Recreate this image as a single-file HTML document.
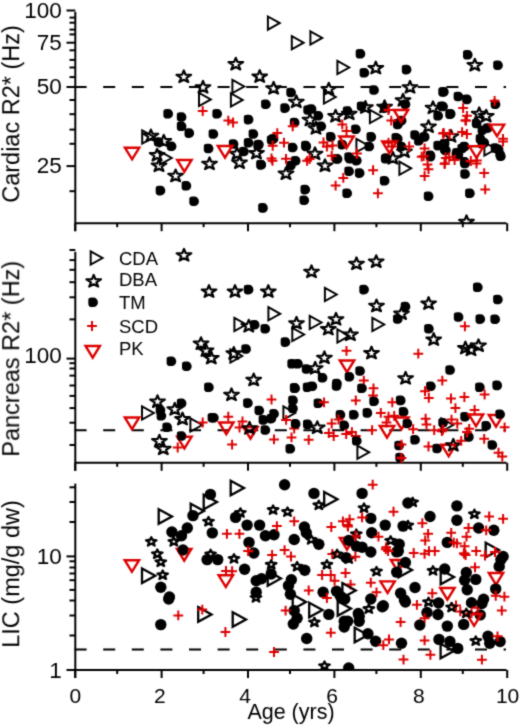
<!DOCTYPE html>
<html><head><meta charset="utf-8"><style>
html,body{margin:0;padding:0;background:#fff;width:520px;height:726px;overflow:hidden}
svg{display:block}
text{font-family:"Liberation Sans",sans-serif;fill:#000}
</style></head><body>
<svg width="520" height="726" viewBox="0 0 520 726">
<defs>
<filter id="soft" x="0" y="0" width="520" height="726" filterUnits="userSpaceOnUse"><feConvolveMatrix order="3" kernelMatrix="0.03 0.1 0.03 0.1 0.48 0.1 0.03 0.1 0.03" edgeMode="none" preserveAlpha="false"/></filter>
<filter id="gs" x="-10%" y="-10%" width="120%" height="120%"><feOffset dx="0" dy="0"/></filter>
<path id="mT" d="M-5.6,-6.6 L6.2,0 L-5.6,6.6 Z" fill="none" stroke="#000" stroke-width="2"/>
<path id="mS" d="M0,-6 L1.7,-1.9 L7.3,-1.7 L2.7,1.3 L4.5,5.6 L0,3.3 L-4.5,5.6 L-2.7,1.3 L-7.3,-1.7 L-1.7,-1.9 Z" fill="none" stroke="#000" stroke-width="2.2" stroke-linejoin="round"/>
<path id="mC" d="M-4.7,-2.3 C-4.7,-4.1 -3.4,-4.8 -1.4,-4.8 L0.2,-4.8 C3.1,-4.8 4.9,-2.7 4.9,0 C4.9,2.8 2.9,4.8 0.1,4.8 L-1.2,4.8 C-3.4,4.8 -4.7,3.5 -4.7,1.6 Z" fill="#000"/>
<path id="mP" d="M-4.9,0 H4.9 M0,-4.9 V4.9" stroke="#dd0000" stroke-width="2" fill="none"/>
<path id="mV" d="M-7.2,-5 H7.2 L0,6.6 Z" fill="none" stroke="#dd0000" stroke-width="2.4" stroke-linejoin="miter"/>
<path id="mT3" d="M-6.3,-7.3 L7,0 L-6.3,7.3 Z" fill="none" stroke="#000" stroke-width="2.3"/>
<path id="mS3" transform="scale(0.76)" d="M0,-5.6 L1.65,-2.3 L6.9,-1.6 L2.7,0.9 L4.4,5.4 L0,2.8 L-4.4,5.4 L-2.7,0.9 L-6.9,-1.6 L-1.65,-2.3 Z" fill="none" stroke="#000" stroke-width="3" stroke-linejoin="round"/>
<circle id="mC3" cx="0" cy="0" r="5.7" fill="#000"/>
<clipPath id="cl1"><rect x="0" y="0" width="520" height="223.2"/></clipPath>
<clipPath id="cl2"><rect x="0" y="240" width="520" height="222.8"/></clipPath>
<clipPath id="cl3"><rect x="0" y="470" width="520" height="200"/></clipPath>
</defs><g filter="url(#soft)"><line x1="75.30" y1="11.80" x2="75.30" y2="231.20" stroke="#000" stroke-width="2" />
<line x1="75.30" y1="223.20" x2="506.50" y2="223.20" stroke="#000" stroke-width="2" />
<line x1="66.50" y1="10.50" x2="75.30" y2="10.50" stroke="#000" stroke-width="2" />
<text x="61.80" y="18.00" font-size="22.5" text-anchor="end" filter="url(#gs)" >100</text>
<line x1="66.50" y1="42.70" x2="75.30" y2="42.70" stroke="#000" stroke-width="2" />
<text x="61.80" y="50.20" font-size="22.5" text-anchor="end" filter="url(#gs)" >75</text>
<line x1="66.50" y1="87.00" x2="75.30" y2="87.00" stroke="#000" stroke-width="2" />
<text x="61.80" y="93.50" font-size="22.5" text-anchor="end" filter="url(#gs)" >50</text>
<line x1="66.50" y1="166.10" x2="75.30" y2="166.10" stroke="#000" stroke-width="2" />
<text x="61.80" y="172.60" font-size="22.5" text-anchor="end" filter="url(#gs)" >25</text>
<line x1="69.50" y1="17.60" x2="75.30" y2="17.60" stroke="#000" stroke-width="2" />
<line x1="69.50" y1="22.70" x2="75.30" y2="22.70" stroke="#000" stroke-width="2" />
<line x1="69.50" y1="29.60" x2="75.30" y2="29.60" stroke="#000" stroke-width="2" />
<line x1="69.50" y1="34.40" x2="75.30" y2="34.40" stroke="#000" stroke-width="2" />
<line x1="69.50" y1="50.30" x2="75.30" y2="50.30" stroke="#000" stroke-width="2" />
<line x1="69.50" y1="59.90" x2="75.30" y2="59.90" stroke="#000" stroke-width="2" />
<line x1="69.50" y1="67.50" x2="75.30" y2="67.50" stroke="#000" stroke-width="2" />
<line x1="69.50" y1="77.10" x2="75.30" y2="77.10" stroke="#000" stroke-width="2" />
<line x1="69.50" y1="100.00" x2="75.30" y2="100.00" stroke="#000" stroke-width="2" />
<line x1="69.50" y1="114.20" x2="75.30" y2="114.20" stroke="#000" stroke-width="2" />
<line x1="69.50" y1="129.60" x2="75.30" y2="129.60" stroke="#000" stroke-width="2" />
<line x1="69.50" y1="143.80" x2="75.30" y2="143.80" stroke="#000" stroke-width="2" />
<line x1="69.50" y1="191.20" x2="75.30" y2="191.20" stroke="#000" stroke-width="2" />
<line x1="75.20" y1="223.20" x2="75.20" y2="231.20" stroke="#000" stroke-width="2" />
<line x1="117.20" y1="223.20" x2="117.20" y2="227.20" stroke="#000" stroke-width="2" />
<line x1="161.60" y1="223.20" x2="161.60" y2="231.20" stroke="#000" stroke-width="2" />
<line x1="203.60" y1="223.20" x2="203.60" y2="227.20" stroke="#000" stroke-width="2" />
<line x1="248.00" y1="223.20" x2="248.00" y2="231.20" stroke="#000" stroke-width="2" />
<line x1="290.00" y1="223.20" x2="290.00" y2="227.20" stroke="#000" stroke-width="2" />
<line x1="334.40" y1="223.20" x2="334.40" y2="231.20" stroke="#000" stroke-width="2" />
<line x1="376.40" y1="223.20" x2="376.40" y2="227.20" stroke="#000" stroke-width="2" />
<line x1="420.80" y1="223.20" x2="420.80" y2="231.20" stroke="#000" stroke-width="2" />
<line x1="462.80" y1="223.20" x2="462.80" y2="227.20" stroke="#000" stroke-width="2" />
<line x1="507.20" y1="223.20" x2="507.20" y2="231.20" stroke="#000" stroke-width="2" />
<line x1="74.60" y1="87.00" x2="506.00" y2="87.00" stroke="#000" stroke-width="2" stroke-dasharray="12,16.6"/>
<line x1="75.30" y1="251.80" x2="75.30" y2="470.80" stroke="#000" stroke-width="2" />
<line x1="75.30" y1="462.80" x2="506.50" y2="462.80" stroke="#000" stroke-width="2" />
<line x1="66.50" y1="358.60" x2="75.30" y2="358.60" stroke="#000" stroke-width="2" />
<text x="61.80" y="363.10" font-size="22.5" text-anchor="end" filter="url(#gs)" >100</text>
<line x1="69.50" y1="250.00" x2="75.30" y2="250.00" stroke="#000" stroke-width="2" />
<line x1="69.50" y1="260.10" x2="75.30" y2="260.10" stroke="#000" stroke-width="2" />
<line x1="69.50" y1="269.80" x2="75.30" y2="269.80" stroke="#000" stroke-width="2" />
<line x1="69.50" y1="282.20" x2="75.30" y2="282.20" stroke="#000" stroke-width="2" />
<line x1="69.50" y1="297.30" x2="75.30" y2="297.30" stroke="#000" stroke-width="2" />
<line x1="69.50" y1="319.40" x2="75.30" y2="319.40" stroke="#000" stroke-width="2" />
<line x1="69.50" y1="363.20" x2="75.30" y2="363.20" stroke="#000" stroke-width="2" />
<line x1="69.50" y1="368.50" x2="75.30" y2="368.50" stroke="#000" stroke-width="2" />
<line x1="69.50" y1="375.60" x2="75.30" y2="375.60" stroke="#000" stroke-width="2" />
<line x1="69.50" y1="385.50" x2="75.30" y2="385.50" stroke="#000" stroke-width="2" />
<line x1="69.50" y1="395.90" x2="75.30" y2="395.90" stroke="#000" stroke-width="2" />
<line x1="69.50" y1="408.10" x2="75.30" y2="408.10" stroke="#000" stroke-width="2" />
<line x1="69.50" y1="422.70" x2="75.30" y2="422.70" stroke="#000" stroke-width="2" />
<line x1="69.50" y1="445.00" x2="75.30" y2="445.00" stroke="#000" stroke-width="2" />
<line x1="75.20" y1="462.80" x2="75.20" y2="470.80" stroke="#000" stroke-width="2" />
<line x1="117.20" y1="462.80" x2="117.20" y2="466.80" stroke="#000" stroke-width="2" />
<line x1="161.60" y1="462.80" x2="161.60" y2="470.80" stroke="#000" stroke-width="2" />
<line x1="203.60" y1="462.80" x2="203.60" y2="466.80" stroke="#000" stroke-width="2" />
<line x1="248.00" y1="462.80" x2="248.00" y2="470.80" stroke="#000" stroke-width="2" />
<line x1="290.00" y1="462.80" x2="290.00" y2="466.80" stroke="#000" stroke-width="2" />
<line x1="334.40" y1="462.80" x2="334.40" y2="470.80" stroke="#000" stroke-width="2" />
<line x1="376.40" y1="462.80" x2="376.40" y2="466.80" stroke="#000" stroke-width="2" />
<line x1="420.80" y1="462.80" x2="420.80" y2="470.80" stroke="#000" stroke-width="2" />
<line x1="462.80" y1="462.80" x2="462.80" y2="466.80" stroke="#000" stroke-width="2" />
<line x1="507.20" y1="462.80" x2="507.20" y2="470.80" stroke="#000" stroke-width="2" />
<line x1="74.60" y1="430.30" x2="506.00" y2="430.30" stroke="#000" stroke-width="2" stroke-dasharray="12,16.6"/>
<line x1="75.30" y1="483.60" x2="75.30" y2="678.00" stroke="#000" stroke-width="2" />
<line x1="75.30" y1="670.00" x2="506.50" y2="670.00" stroke="#000" stroke-width="2" />
<line x1="66.50" y1="556.40" x2="75.30" y2="556.40" stroke="#000" stroke-width="2" />
<text x="61.80" y="563.90" font-size="22.5" text-anchor="end" filter="url(#gs)" >10</text>
<line x1="66.50" y1="670.00" x2="75.30" y2="670.00" stroke="#000" stroke-width="2" />
<text x="61.80" y="677.50" font-size="22.5" text-anchor="end" filter="url(#gs)" >1</text>
<line x1="69.50" y1="487.30" x2="75.30" y2="487.30" stroke="#000" stroke-width="2" />
<line x1="69.50" y1="502.00" x2="75.30" y2="502.00" stroke="#000" stroke-width="2" />
<line x1="69.50" y1="522.00" x2="75.30" y2="522.00" stroke="#000" stroke-width="2" />
<line x1="69.50" y1="561.30" x2="75.30" y2="561.30" stroke="#000" stroke-width="2" />
<line x1="69.50" y1="567.50" x2="75.30" y2="567.50" stroke="#000" stroke-width="2" />
<line x1="69.50" y1="573.50" x2="75.30" y2="573.50" stroke="#000" stroke-width="2" />
<line x1="69.50" y1="580.20" x2="75.30" y2="580.20" stroke="#000" stroke-width="2" />
<line x1="69.50" y1="589.90" x2="75.30" y2="589.90" stroke="#000" stroke-width="2" />
<line x1="69.50" y1="600.50" x2="75.30" y2="600.50" stroke="#000" stroke-width="2" />
<line x1="69.50" y1="615.50" x2="75.30" y2="615.50" stroke="#000" stroke-width="2" />
<line x1="69.50" y1="635.50" x2="75.30" y2="635.50" stroke="#000" stroke-width="2" />
<line x1="75.20" y1="670.00" x2="75.20" y2="678.00" stroke="#000" stroke-width="2" />
<line x1="117.20" y1="670.00" x2="117.20" y2="674.00" stroke="#000" stroke-width="2" />
<line x1="161.60" y1="670.00" x2="161.60" y2="678.00" stroke="#000" stroke-width="2" />
<line x1="203.60" y1="670.00" x2="203.60" y2="674.00" stroke="#000" stroke-width="2" />
<line x1="248.00" y1="670.00" x2="248.00" y2="678.00" stroke="#000" stroke-width="2" />
<line x1="290.00" y1="670.00" x2="290.00" y2="674.00" stroke="#000" stroke-width="2" />
<line x1="334.40" y1="670.00" x2="334.40" y2="678.00" stroke="#000" stroke-width="2" />
<line x1="376.40" y1="670.00" x2="376.40" y2="674.00" stroke="#000" stroke-width="2" />
<line x1="420.80" y1="670.00" x2="420.80" y2="678.00" stroke="#000" stroke-width="2" />
<line x1="462.80" y1="670.00" x2="462.80" y2="674.00" stroke="#000" stroke-width="2" />
<line x1="507.20" y1="670.00" x2="507.20" y2="678.00" stroke="#000" stroke-width="2" />
<line x1="74.60" y1="649.60" x2="506.00" y2="649.60" stroke="#000" stroke-width="2" stroke-dasharray="12,16.6"/>
<text x="75.40" y="702.60" font-size="21" text-anchor="middle" filter="url(#gs)" >0</text>
<text x="159.80" y="702.60" font-size="21" text-anchor="middle" filter="url(#gs)" >2</text>
<text x="245.20" y="702.60" font-size="21" text-anchor="middle" filter="url(#gs)" >4</text>
<text x="332.00" y="702.60" font-size="21" text-anchor="middle" filter="url(#gs)" >6</text>
<text x="418.80" y="702.60" font-size="21" text-anchor="middle" filter="url(#gs)" >8</text>
<text x="507.60" y="702.60" font-size="21" text-anchor="middle" filter="url(#gs)" >10</text>
<text x="291.00" y="719.20" font-size="21.5" text-anchor="middle" filter="url(#gs)" >Age (yrs)</text>
<text x="0.00" y="0.00" font-size="23.5" text-anchor="middle" filter="url(#gs)" transform="translate(19.2,114) rotate(-90)">Cardiac R2* (Hz)</text>
<text x="0.00" y="0.00" font-size="23.5" text-anchor="middle" filter="url(#gs)" transform="translate(19.2,358.7) rotate(-90)">Pancreas R2* (Hz)</text>
<text x="0.00" y="0.00" font-size="23.5" text-anchor="middle" filter="url(#gs)" transform="translate(19.2,574) rotate(-90)">LIC (mg/g dw)</text>
<g clip-path="url(#cl1)">
<use href="#mT" x="273.5" y="23.1"/>
<use href="#mT" x="297.4" y="42.7"/>
<use href="#mT" x="316.0" y="37.9"/>
<use href="#mT" x="343.0" y="67.5"/>
<use href="#mT" x="238.0" y="86.5"/>
<use href="#mT" x="204.6" y="99.4"/>
<use href="#mT" x="236.5" y="99.9"/>
<use href="#mT" x="329.5" y="97.0"/>
<use href="#mT" x="375.5" y="116.5"/>
<use href="#mS" x="349.2" y="113.5"/>
<use href="#mS" x="384.6" y="106.5"/>
<use href="#mT" x="147.8" y="137.0"/>
<use href="#mC" x="158.5" y="142.0"/>
<use href="#mT" x="165.5" y="158.0"/>
<use href="#mT" x="405.0" y="168.3"/>
<use href="#mT" x="490.0" y="149.0"/>
<use href="#mS" x="183.8" y="76.5"/>
<use href="#mS" x="235.8" y="63.8"/>
<use href="#mS" x="259.7" y="76.2"/>
<use href="#mS" x="203.0" y="87.0"/>
<use href="#mS" x="273.6" y="88.0"/>
<use href="#mS" x="375.8" y="67.7"/>
<use href="#mS" x="410.0" y="87.0"/>
<use href="#mS" x="474.8" y="64.8"/>
<use href="#mS" x="296.3" y="101.5"/>
<use href="#mS" x="316.0" y="128.0"/>
<use href="#mS" x="328.8" y="88.8"/>
<use href="#mS" x="310.0" y="119.6"/>
<use href="#mS" x="335.6" y="115.8"/>
<use href="#mS" x="365.4" y="107.1"/>
<use href="#mS" x="403.0" y="100.0"/>
<use href="#mS" x="433.0" y="107.5"/>
<use href="#mS" x="479.2" y="113.5"/>
<use href="#mS" x="486.2" y="115.8"/>
<use href="#mS" x="428.5" y="126.3"/>
<use href="#mS" x="451.0" y="136.0"/>
<use href="#mS" x="404.4" y="151.3"/>
<use href="#mS" x="392.9" y="158.0"/>
<use href="#mS" x="150.9" y="135.6"/>
<use href="#mS" x="163.8" y="140.9"/>
<use href="#mS" x="157.1" y="154.8"/>
<use href="#mS" x="159.0" y="165.4"/>
<use href="#mS" x="175.6" y="175.6"/>
<use href="#mS" x="209.5" y="163.5"/>
<use href="#mS" x="237.0" y="153.5"/>
<use href="#mS" x="239.5" y="162.3"/>
<use href="#mS" x="256.5" y="152.7"/>
<use href="#mS" x="286.0" y="173.3"/>
<use href="#mS" x="315.0" y="153.5"/>
<use href="#mS" x="325.0" y="165.4"/>
<use href="#mT" x="362.0" y="145.5"/>
<use href="#mS" x="466.5" y="221.5"/>
<use href="#mC" x="360.4" y="53.8"/>
<use href="#mC" x="364.3" y="72.8"/>
<use href="#mC" x="406.5" y="69.6"/>
<use href="#mC" x="467.7" y="54.8"/>
<use href="#mC" x="497.9" y="65.2"/>
<use href="#mC" x="374.0" y="90.0"/>
<use href="#mC" x="443.0" y="92.0"/>
<use href="#mC" x="168.1" y="113.8"/>
<use href="#mC" x="181.5" y="117.0"/>
<use href="#mC" x="181.5" y="126.3"/>
<use href="#mC" x="189.2" y="133.1"/>
<use href="#mC" x="217.1" y="113.8"/>
<use href="#mC" x="213.3" y="134.0"/>
<use href="#mC" x="171.5" y="146.2"/>
<use href="#mC" x="208.5" y="148.5"/>
<use href="#mC" x="291.0" y="92.5"/>
<use href="#mC" x="265.8" y="104.2"/>
<use href="#mC" x="285.0" y="108.1"/>
<use href="#mC" x="308.0" y="110.0"/>
<use href="#mC" x="248.5" y="119.6"/>
<use href="#mC" x="294.6" y="122.5"/>
<use href="#mC" x="253.3" y="134.0"/>
<use href="#mC" x="273.5" y="138.8"/>
<use href="#mC" x="292.7" y="147.5"/>
<use href="#mC" x="306.2" y="146.5"/>
<use href="#mC" x="233.5" y="144.0"/>
<use href="#mC" x="248.5" y="142.7"/>
<use href="#mC" x="258.0" y="145.6"/>
<use href="#mC" x="243.8" y="151.5"/>
<use href="#mC" x="258.8" y="144.6"/>
<use href="#mC" x="261.2" y="164.8"/>
<use href="#mC" x="271.5" y="140.0"/>
<use href="#mC" x="311.5" y="109.0"/>
<use href="#mC" x="318.3" y="115.8"/>
<use href="#mC" x="321.2" y="126.3"/>
<use href="#mC" x="347.5" y="111.0"/>
<use href="#mC" x="361.5" y="106.2"/>
<use href="#mC" x="384.6" y="108.1"/>
<use href="#mC" x="398.0" y="123.5"/>
<use href="#mC" x="355.8" y="129.2"/>
<use href="#mC" x="330.8" y="136.9"/>
<use href="#mC" x="342.3" y="144.6"/>
<use href="#mC" x="371.2" y="136.9"/>
<use href="#mC" x="369.2" y="146.5"/>
<use href="#mC" x="396.2" y="137.9"/>
<use href="#mC" x="305.8" y="145.6"/>
<use href="#mC" x="337.5" y="159.0"/>
<use href="#mC" x="349.0" y="157.1"/>
<use href="#mC" x="386.5" y="158.0"/>
<use href="#mC" x="443.8" y="91.7"/>
<use href="#mC" x="458.3" y="96.5"/>
<use href="#mC" x="466.9" y="99.4"/>
<use href="#mC" x="405.4" y="104.2"/>
<use href="#mC" x="441.9" y="106.2"/>
<use href="#mC" x="438.1" y="115.8"/>
<use href="#mC" x="450.6" y="113.8"/>
<use href="#mC" x="401.5" y="120.6"/>
<use href="#mC" x="397.7" y="124.4"/>
<use href="#mC" x="415.0" y="135.0"/>
<use href="#mC" x="424.6" y="136.9"/>
<use href="#mC" x="418.8" y="140.8"/>
<use href="#mC" x="476.5" y="123.5"/>
<use href="#mC" x="482.3" y="130.2"/>
<use href="#mC" x="480.4" y="138.8"/>
<use href="#mC" x="484.2" y="142.7"/>
<use href="#mC" x="397.7" y="138.8"/>
<use href="#mC" x="401.5" y="146.5"/>
<use href="#mC" x="438.1" y="145.6"/>
<use href="#mC" x="445.8" y="150.4"/>
<use href="#mC" x="430.4" y="155.2"/>
<use href="#mC" x="462.1" y="148.5"/>
<use href="#mC" x="456.3" y="155.2"/>
<use href="#mC" x="495.4" y="104.2"/>
<use href="#mC" x="443.0" y="106.5"/>
<use href="#mC" x="450.0" y="114.2"/>
<use href="#mC" x="487.7" y="128.1"/>
<use href="#mC" x="444.6" y="143.5"/>
<use href="#mC" x="464.6" y="146.5"/>
<use href="#mC" x="456.9" y="152.7"/>
<use href="#mC" x="500.0" y="154.2"/>
<use href="#mC" x="495.4" y="148.1"/>
<use href="#mC" x="464.6" y="161.9"/>
<use href="#mC" x="160.4" y="190.6"/>
<use href="#mC" x="186.3" y="185.8"/>
<use href="#mC" x="194.0" y="201.2"/>
<use href="#mC" x="261.0" y="164.6"/>
<use href="#mC" x="295.6" y="160.8"/>
<use href="#mC" x="290.8" y="165.6"/>
<use href="#mC" x="305.2" y="189.6"/>
<use href="#mC" x="304.2" y="200.2"/>
<use href="#mC" x="262.9" y="207.9"/>
<use href="#mC" x="336.5" y="158.7"/>
<use href="#mC" x="350.0" y="158.7"/>
<use href="#mC" x="356.7" y="160.6"/>
<use href="#mC" x="349.0" y="171.2"/>
<use href="#mC" x="359.6" y="173.1"/>
<use href="#mC" x="347.1" y="193.3"/>
<use href="#mC" x="384.6" y="180.8"/>
<use href="#mC" x="385.6" y="158.7"/>
<use href="#mC" x="430.4" y="156.7"/>
<use href="#mC" x="458.3" y="154.8"/>
<use href="#mC" x="465.0" y="163.5"/>
<use href="#mC" x="465.0" y="174.0"/>
<use href="#mC" x="428.5" y="196.2"/>
<use href="#mC" x="469.8" y="193.3"/>
<use href="#mC" x="482.3" y="143.8"/>
<use href="#mC" x="498.5" y="149.2"/>
<use href="#mC" x="500.8" y="156.2"/>
<use href="#mC" x="444.6" y="149.2"/>
<use href="#mP" x="202.7" y="111.0"/>
<use href="#mP" x="228.3" y="120.6"/>
<use href="#mP" x="233.1" y="122.5"/>
<use href="#mP" x="292.7" y="126.3"/>
<use href="#mP" x="277.3" y="133.1"/>
<use href="#mP" x="284.0" y="142.7"/>
<use href="#mP" x="272.7" y="145.8"/>
<use href="#mP" x="271.5" y="158.5"/>
<use href="#mP" x="342.3" y="124.4"/>
<use href="#mP" x="388.5" y="110.0"/>
<use href="#mP" x="391.3" y="120.6"/>
<use href="#mP" x="326.9" y="146.5"/>
<use href="#mP" x="388.5" y="142.7"/>
<use href="#mP" x="357.0" y="153.5"/>
<use href="#mP" x="323.5" y="142.5"/>
<use href="#mP" x="332.5" y="145.5"/>
<use href="#mP" x="346.5" y="131.0"/>
<use href="#mP" x="309.6" y="159.0"/>
<use href="#mP" x="463.1" y="108.1"/>
<use href="#mP" x="466.9" y="115.8"/>
<use href="#mP" x="466.0" y="120.6"/>
<use href="#mP" x="443.8" y="133.1"/>
<use href="#mP" x="449.6" y="134.0"/>
<use href="#mP" x="462.1" y="132.1"/>
<use href="#mP" x="466.9" y="134.0"/>
<use href="#mP" x="391.9" y="146.5"/>
<use href="#mP" x="409.2" y="146.5"/>
<use href="#mP" x="424.6" y="148.5"/>
<use href="#mP" x="423.7" y="156.2"/>
<use href="#mP" x="445.8" y="158.0"/>
<use href="#mP" x="470.8" y="161.0"/>
<use href="#mP" x="494.6" y="100.8"/>
<use href="#mP" x="465.4" y="120.4"/>
<use href="#mP" x="503.0" y="138.8"/>
<use href="#mP" x="449.2" y="157.3"/>
<use href="#mP" x="476.9" y="160.4"/>
<use href="#mP" x="443.0" y="133.5"/>
<use href="#mP" x="272.5" y="160.8"/>
<use href="#mP" x="286.0" y="158.8"/>
<use href="#mP" x="307.1" y="160.8"/>
<use href="#mP" x="331.7" y="155.8"/>
<use href="#mP" x="343.3" y="177.9"/>
<use href="#mP" x="335.6" y="185.6"/>
<use href="#mP" x="373.1" y="170.2"/>
<use href="#mP" x="377.9" y="193.3"/>
<use href="#mP" x="421.7" y="156.7"/>
<use href="#mP" x="427.5" y="164.4"/>
<use href="#mP" x="428.5" y="169.2"/>
<use href="#mP" x="424.6" y="176.0"/>
<use href="#mP" x="444.8" y="163.5"/>
<use href="#mP" x="476.5" y="163.5"/>
<use href="#mP" x="484.2" y="173.1"/>
<use href="#mP" x="485.2" y="189.4"/>
<use href="#mP" x="444.6" y="163.8"/>
<use href="#mP" x="454.6" y="160.0"/>
<use href="#mP" x="503.0" y="141.5"/>
<use href="#mV" x="132.1" y="152.7"/>
<use href="#mV" x="184.4" y="165.0"/>
<use href="#mV" x="225.0" y="151.0"/>
<use href="#mV" x="346.5" y="141.5"/>
<use href="#mV" x="389.4" y="146.5"/>
<use href="#mV" x="401.0" y="115.0"/>
<use href="#mV" x="476.5" y="151.3"/>
<use href="#mV" x="497.0" y="129.6"/>
</g>
<g clip-path="url(#cl2)">
<use href="#mS" x="184.0" y="255.0"/>
<use href="#mS" x="209.0" y="291.2"/>
<use href="#mS" x="235.0" y="291.2"/>
<use href="#mC" x="248.5" y="289.6"/>
<use href="#mS" x="268.3" y="291.2"/>
<use href="#mS" x="311.5" y="271.5"/>
<use href="#mT" x="330.5" y="294.5"/>
<use href="#mT" x="274.0" y="313.8"/>
<use href="#mS" x="296.5" y="323.0"/>
<use href="#mT" x="315.3" y="322.5"/>
<use href="#mS" x="356.5" y="263.5"/>
<use href="#mS" x="376.2" y="261.3"/>
<use href="#mC" x="364.0" y="289.6"/>
<use href="#mS" x="376.5" y="305.6"/>
<use href="#mC" x="405.4" y="306.5"/>
<use href="#mS" x="401.5" y="313.3"/>
<use href="#mC" x="397.7" y="319.0"/>
<use href="#mS" x="428.6" y="303.2"/>
<use href="#mT" x="378.0" y="324.5"/>
<use href="#mC" x="477.7" y="287.3"/>
<use href="#mC" x="497.8" y="299.5"/>
<use href="#mC" x="458.5" y="317.0"/>
<use href="#mC" x="480.2" y="319.1"/>
<use href="#mC" x="495.1" y="319.2"/>
<use href="#mP" x="464.9" y="326.3"/>
<use href="#mC" x="171.3" y="361.3"/>
<use href="#mC" x="186.7" y="366.2"/>
<use href="#mS" x="201.0" y="343.3"/>
<use href="#mS" x="206.0" y="350.2"/>
<use href="#mS" x="211.3" y="357.7"/>
<use href="#mC" x="208.8" y="387.3"/>
<use href="#mT" x="236.0" y="356.0"/>
<use href="#mS" x="233.8" y="353.1"/>
<use href="#mC" x="246.0" y="349.0"/>
<use href="#mT" x="240.0" y="324.5"/>
<use href="#mS" x="248.8" y="325.8"/>
<use href="#mC" x="254.6" y="324.8"/>
<use href="#mC" x="265.2" y="328.7"/>
<use href="#mT" x="297.9" y="334.5"/>
<use href="#mC" x="285.4" y="342.1"/>
<use href="#mC" x="292.1" y="363.8"/>
<use href="#mC" x="297.9" y="363.8"/>
<use href="#mC" x="306.5" y="369.0"/>
<use href="#mS" x="315.2" y="368.0"/>
<use href="#mS" x="253.7" y="379.6"/>
<use href="#mC" x="295.0" y="388.3"/>
<use href="#mC" x="307.5" y="387.3"/>
<use href="#mC" x="312.3" y="386.3"/>
<use href="#mS" x="231.5" y="394.5"/>
<use href="#mP" x="271.5" y="399.5"/>
<use href="#mS" x="328.3" y="328.7"/>
<use href="#mS" x="336.0" y="319.0"/>
<use href="#mT" x="343.0" y="335.9"/>
<use href="#mS" x="350.4" y="334.4"/>
<use href="#mP" x="346.5" y="350.8"/>
<use href="#mS" x="371.5" y="352.7"/>
<use href="#mS" x="324.4" y="357.5"/>
<use href="#mV" x="347.0" y="365.5"/>
<use href="#mC" x="360.0" y="371.0"/>
<use href="#mC" x="349.4" y="376.7"/>
<use href="#mC" x="322.5" y="377.7"/>
<use href="#mC" x="336.9" y="383.5"/>
<use href="#mP" x="363.8" y="380.6"/>
<use href="#mP" x="373.5" y="388.3"/>
<use href="#mC" x="361.9" y="388.3"/>
<use href="#mS" x="405.6" y="378.0"/>
<use href="#mC" x="428.8" y="328.7"/>
<use href="#mS" x="433.7" y="339.2"/>
<use href="#mP" x="418.3" y="353.7"/>
<use href="#mS" x="465.4" y="347.7"/>
<use href="#mS" x="478.5" y="345.4"/>
<use href="#mS" x="471.0" y="349.5"/>
<use href="#mC" x="450.0" y="370.0"/>
<use href="#mP" x="442.3" y="380.6"/>
<use href="#mC" x="430.8" y="386.3"/>
<use href="#mP" x="425.0" y="391.2"/>
<use href="#mC" x="479.8" y="387.3"/>
<use href="#mC" x="497.1" y="385.4"/>
<use href="#mP" x="484.6" y="394.5"/>
<use href="#mP" x="464.4" y="397.0"/>
<use href="#mP" x="451.0" y="398.5"/>
<use href="#mP" x="428.8" y="397.9"/>
<use href="#mV" x="132.0" y="422.5"/>
<use href="#mT" x="147.6" y="413.0"/>
<use href="#mS" x="157.5" y="401.3"/>
<use href="#mC" x="160.4" y="410.0"/>
<use href="#mC" x="161.3" y="415.8"/>
<use href="#mS" x="174.8" y="409.0"/>
<use href="#mC" x="181.5" y="403.3"/>
<use href="#mS" x="182.5" y="418.7"/>
<use href="#mC" x="167.1" y="427.3"/>
<use href="#mT" x="196.0" y="425.0"/>
<use href="#mP" x="202.7" y="422.5"/>
<use href="#mC" x="212.3" y="417.7"/>
<use href="#mS" x="159.4" y="440.8"/>
<use href="#mS" x="163.3" y="448.5"/>
<use href="#mV" x="184.4" y="441.8"/>
<use href="#mC" x="181.5" y="436.0"/>
<use href="#mP" x="177.7" y="447.5"/>
<use href="#mC" x="247.8" y="403.1"/>
<use href="#mC" x="213.8" y="417.7"/>
<use href="#mV" x="226.3" y="427.5"/>
<use href="#mP" x="228.3" y="416.7"/>
<use href="#mP" x="242.5" y="421.5"/>
<use href="#mP" x="232.1" y="444.6"/>
<use href="#mP" x="239.5" y="427.5"/>
<use href="#mV" x="250.5" y="432.0"/>
<use href="#mS" x="249.5" y="428.0"/>
<use href="#mC" x="259.2" y="410.5"/>
<use href="#mC" x="263.3" y="419.9"/>
<use href="#mC" x="265.3" y="430.0"/>
<use href="#mC" x="274.0" y="413.8"/>
<use href="#mC" x="271.3" y="418.6"/>
<use href="#mT" x="289.0" y="413.0"/>
<use href="#mP" x="286.1" y="419.9"/>
<use href="#mP" x="294.2" y="428.6"/>
<use href="#mP" x="291.5" y="437.4"/>
<use href="#mC" x="295.6" y="423.9"/>
<use href="#mC" x="290.2" y="448.8"/>
<use href="#mP" x="274.0" y="439.4"/>
<use href="#mC" x="292.9" y="400.4"/>
<use href="#mC" x="292.9" y="408.5"/>
<use href="#mC" x="294.6" y="387.9"/>
<use href="#mC" x="336.5" y="386.0"/>
<use href="#mP" x="373.1" y="395.6"/>
<use href="#mC" x="374.0" y="401.3"/>
<use href="#mC" x="318.3" y="403.3"/>
<use href="#mP" x="324.0" y="402.3"/>
<use href="#mP" x="355.8" y="400.4"/>
<use href="#mP" x="392.3" y="402.3"/>
<use href="#mC" x="340.4" y="414.8"/>
<use href="#mC" x="353.8" y="414.8"/>
<use href="#mC" x="367.3" y="412.9"/>
<use href="#mP" x="380.8" y="412.9"/>
<use href="#mP" x="388.5" y="416.7"/>
<use href="#mP" x="394.2" y="415.8"/>
<use href="#mC" x="307.7" y="424.4"/>
<use href="#mS" x="317.3" y="427.3"/>
<use href="#mP" x="331.7" y="423.5"/>
<use href="#mP" x="338.5" y="419.6"/>
<use href="#mC" x="344.2" y="425.4"/>
<use href="#mP" x="328.8" y="433.1"/>
<use href="#mP" x="333.7" y="436.0"/>
<use href="#mP" x="346.2" y="434.0"/>
<use href="#mP" x="351.9" y="432.1"/>
<use href="#mP" x="355.8" y="436.0"/>
<use href="#mC" x="356.7" y="440.8"/>
<use href="#mP" x="308.7" y="439.8"/>
<use href="#mP" x="372.1" y="430.2"/>
<use href="#mV" x="387.0" y="431.0"/>
<use href="#mP" x="386.5" y="422.5"/>
<use href="#mT" x="363.0" y="452.3"/>
<use href="#mC" x="399.0" y="445.5"/>
<use href="#mC" x="400.0" y="457.5"/>
<use href="#mP" x="455.4" y="408.1"/>
<use href="#mC" x="400.6" y="400.4"/>
<use href="#mC" x="403.5" y="411.9"/>
<use href="#mV" x="401.5" y="422.5"/>
<use href="#mC" x="407.3" y="423.5"/>
<use href="#mP" x="413.1" y="429.2"/>
<use href="#mP" x="425.6" y="418.7"/>
<use href="#mP" x="426.5" y="424.4"/>
<use href="#mP" x="434.2" y="430.2"/>
<use href="#mP" x="441.9" y="431.2"/>
<use href="#mT" x="447.0" y="425.0"/>
<use href="#mP" x="451.5" y="419.6"/>
<use href="#mP" x="457.3" y="423.5"/>
<use href="#mC" x="465.0" y="416.7"/>
<use href="#mV" x="476.0" y="419.5"/>
<use href="#mP" x="474.6" y="410.0"/>
<use href="#mC" x="415.0" y="439.8"/>
<use href="#mP" x="401.5" y="444.6"/>
<use href="#mP" x="428.5" y="446.5"/>
<use href="#mC" x="437.1" y="448.5"/>
<use href="#mV" x="448.7" y="449.7"/>
<use href="#mS" x="453.3" y="445.0"/>
<use href="#mP" x="461.2" y="440.8"/>
<use href="#mC" x="468.8" y="436.9"/>
<use href="#mP" x="466.9" y="432.1"/>
<use href="#mP" x="484.2" y="438.8"/>
<use href="#mP" x="401.5" y="458.0"/>
<use href="#mV" x="496.0" y="420.0"/>
<use href="#mC" x="500.0" y="414.2"/>
<use href="#mC" x="486.2" y="425.8"/>
<use href="#mP" x="504.6" y="427.3"/>
<use href="#mP" x="469.2" y="428.8"/>
<use href="#mC" x="492.3" y="445.0"/>
<use href="#mP" x="498.5" y="452.7"/>
<use href="#mP" x="502.3" y="456.5"/>
<use href="#mC" x="443.0" y="422.7"/>
<use href="#mP" x="443.0" y="429.6"/>
</g>
<g clip-path="url(#cl3)">
<use href="#mT3" x="165.0" y="516.5"/>
<use href="#mS3" x="151.3" y="541.5"/>
<use href="#mS3" x="157.3" y="553.8"/>
<use href="#mS3" x="160.8" y="561.9"/>
<use href="#mC3" x="193.0" y="515.6"/>
<use href="#mC3" x="210.4" y="494.4"/>
<use href="#mT3" x="210.0" y="502.0"/>
<use href="#mT3" x="197.0" y="511.0"/>
<use href="#mS3" x="208.5" y="521.3"/>
<use href="#mC3" x="212.3" y="532.9"/>
<use href="#mC3" x="171.9" y="532.0"/>
<use href="#mC3" x="187.3" y="528.0"/>
<use href="#mC3" x="181.5" y="535.8"/>
<use href="#mS3" x="173.8" y="541.5"/>
<use href="#mV" x="184.2" y="554.0"/>
<use href="#mC3" x="183.0" y="550.0"/>
<use href="#mT3" x="237.0" y="488.0"/>
<use href="#mC3" x="284.6" y="484.7"/>
<use href="#mC3" x="235.6" y="517.4"/>
<use href="#mS3" x="240.4" y="512.6"/>
<use href="#mS3" x="273.1" y="509.7"/>
<use href="#mS3" x="287.5" y="511.7"/>
<use href="#mC3" x="247.1" y="525.1"/>
<use href="#mC3" x="259.6" y="525.1"/>
<use href="#mC3" x="265.4" y="535.7"/>
<use href="#mC3" x="274.0" y="534.7"/>
<use href="#mC3" x="294.2" y="539.5"/>
<use href="#mC3" x="249.0" y="542.4"/>
<use href="#mC3" x="253.8" y="553.0"/>
<use href="#mP" x="226.9" y="533.8"/>
<use href="#mP" x="239.4" y="533.8"/>
<use href="#mP" x="276.9" y="526.1"/>
<use href="#mP" x="294.2" y="521.3"/>
<use href="#mP" x="248.1" y="551.1"/>
<use href="#mP" x="272.1" y="554.9"/>
<use href="#mP" x="284.6" y="550.1"/>
<use href="#mP" x="291.0" y="556.5"/>
<use href="#mS3" x="210.6" y="554.0"/>
<use href="#mS3" x="234.0" y="558.5"/>
<use href="#mC3" x="314.0" y="493.4"/>
<use href="#mT3" x="330.5" y="499.2"/>
<use href="#mS3" x="318.8" y="504.9"/>
<use href="#mC3" x="362.1" y="493.4"/>
<use href="#mP" x="372.7" y="484.7"/>
<use href="#mS3" x="364.0" y="507.8"/>
<use href="#mC3" x="370.8" y="518.4"/>
<use href="#mP" x="362.1" y="517.4"/>
<use href="#mC3" x="385.2" y="525.1"/>
<use href="#mC3" x="371.7" y="532.8"/>
<use href="#mP" x="378.5" y="536.7"/>
<use href="#mC3" x="304.4" y="527.0"/>
<use href="#mC3" x="306.3" y="532.8"/>
<use href="#mS3" x="311.2" y="539.5"/>
<use href="#mC3" x="318.8" y="544.3"/>
<use href="#mP" x="331.3" y="527.0"/>
<use href="#mP" x="342.9" y="521.3"/>
<use href="#mP" x="347.7" y="525.1"/>
<use href="#mP" x="349.6" y="519.3"/>
<use href="#mS3" x="356.3" y="533.8"/>
<use href="#mV" x="347.0" y="543.0"/>
<use href="#mP" x="355.8" y="536.2"/>
<use href="#mP" x="348.0" y="526.5"/>
<use href="#mC3" x="348.7" y="540.5"/>
<use href="#mC3" x="356.3" y="546.3"/>
<use href="#mC3" x="362.1" y="547.2"/>
<use href="#mC3" x="370.8" y="552.0"/>
<use href="#mP" x="386.2" y="547.2"/>
<use href="#mP" x="332.3" y="554.0"/>
<use href="#mS3" x="337.1" y="554.0"/>
<use href="#mC3" x="407.9" y="503.0"/>
<use href="#mS3" x="412.7" y="502.0"/>
<use href="#mP" x="393.5" y="511.7"/>
<use href="#mC3" x="430.0" y="516.5"/>
<use href="#mP" x="422.3" y="523.2"/>
<use href="#mC3" x="456.9" y="505.9"/>
<use href="#mC3" x="456.9" y="520.3"/>
<use href="#mS3" x="474.4" y="513.9"/>
<use href="#mC3" x="403.1" y="526.1"/>
<use href="#mS3" x="407.9" y="525.1"/>
<use href="#mP" x="428.1" y="533.8"/>
<use href="#mP" x="425.2" y="540.5"/>
<use href="#mP" x="451.2" y="532.8"/>
<use href="#mC3" x="447.3" y="542.4"/>
<use href="#mP" x="456.9" y="543.4"/>
<use href="#mP" x="468.5" y="528.0"/>
<use href="#mP" x="466.5" y="536.7"/>
<use href="#mP" x="464.6" y="546.3"/>
<use href="#mC3" x="478.6" y="528.0"/>
<use href="#mC3" x="399.2" y="544.3"/>
<use href="#mC3" x="398.3" y="551.1"/>
<use href="#mS3" x="390.6" y="540.5"/>
<use href="#mP" x="385.8" y="549.2"/>
<use href="#mP" x="413.7" y="553.0"/>
<use href="#mP" x="429.0" y="551.1"/>
<use href="#mP" x="434.8" y="551.1"/>
<use href="#mP" x="476.2" y="551.1"/>
<use href="#mP" x="465.6" y="555.0"/>
<use href="#mC3" x="493.8" y="530.3"/>
<use href="#mP" x="489.2" y="516.5"/>
<use href="#mP" x="503.1" y="518.8"/>
<use href="#mP" x="486.2" y="530.3"/>
<use href="#mP" x="453.8" y="542.6"/>
<use href="#mP" x="463.8" y="553.4"/>
<use href="#mT3" x="492.0" y="550.0"/>
<use href="#mC3" x="503.1" y="556.5"/>
<use href="#mC3" x="207.1" y="559.6"/>
<use href="#mC3" x="217.7" y="559.6"/>
<use href="#mC3" x="244.6" y="569.2"/>
<use href="#mV" x="225.8" y="580.3"/>
<use href="#mP" x="232.1" y="571.2"/>
<use href="#mP" x="226.0" y="571.0"/>
<use href="#mC3" x="256.2" y="580.8"/>
<use href="#mC3" x="256.2" y="592.3"/>
<use href="#mS3" x="256.0" y="597.5"/>
<use href="#mC3" x="168.7" y="599.0"/>
<use href="#mC3" x="160.8" y="587.3"/>
<use href="#mS3" x="162.7" y="574.8"/>
<use href="#mP" x="178.3" y="615.4"/>
<use href="#mT3" x="204.5" y="614.4"/>
<use href="#mP" x="202.3" y="609.6"/>
<use href="#mT3" x="239.0" y="619.5"/>
<use href="#mC3" x="160.8" y="624.6"/>
<use href="#mP" x="225.4" y="632.0"/>
<use href="#mS3" x="271.2" y="564.4"/>
<use href="#mS3" x="297.1" y="566.3"/>
<use href="#mC3" x="304.8" y="570.2"/>
<use href="#mC3" x="261.5" y="578.8"/>
<use href="#mT3" x="274.0" y="578.4"/>
<use href="#mC3" x="271.2" y="574.0"/>
<use href="#mC3" x="291.3" y="579.8"/>
<use href="#mC3" x="288.5" y="585.6"/>
<use href="#mC3" x="290.4" y="594.2"/>
<use href="#mT3" x="299.0" y="601.9"/>
<use href="#mC3" x="294.2" y="610.6"/>
<use href="#mC3" x="297.1" y="618.3"/>
<use href="#mC3" x="293.3" y="624.0"/>
<use href="#mP" x="285.6" y="610.6"/>
<use href="#mT3" x="315.5" y="610.0"/>
<use href="#mS3" x="314.4" y="622.1"/>
<use href="#mP" x="308.7" y="590.4"/>
<use href="#mC3" x="323.1" y="592.3"/>
<use href="#mP" x="326.9" y="598.1"/>
<use href="#mC3" x="328.8" y="614.4"/>
<use href="#mC3" x="336.5" y="591.3"/>
<use href="#mC3" x="340.4" y="596.2"/>
<use href="#mT3" x="344.0" y="608.5"/>
<use href="#mS3" x="326.9" y="564.4"/>
<use href="#mP" x="322.1" y="575.0"/>
<use href="#mP" x="330.8" y="575.0"/>
<use href="#mP" x="334.6" y="580.8"/>
<use href="#mP" x="345.5" y="573.0"/>
<use href="#mC3" x="346.2" y="557.7"/>
<use href="#mC3" x="344.2" y="621.2"/>
<use href="#mC3" x="396.7" y="551.9"/>
<use href="#mP" x="388.1" y="551.0"/>
<use href="#mP" x="424.6" y="553.8"/>
<use href="#mS3" x="348.7" y="558.7"/>
<use href="#mP" x="355.4" y="556.7"/>
<use href="#mV" x="398.0" y="565.0"/>
<use href="#mC3" x="405.4" y="562.5"/>
<use href="#mC3" x="396.7" y="572.1"/>
<use href="#mT3" x="405.0" y="570.0"/>
<use href="#mS3" x="376.5" y="571.2"/>
<use href="#mS3" x="433.0" y="570.5"/>
<use href="#mP" x="370.8" y="582.7"/>
<use href="#mV" x="387.6" y="586.4"/>
<use href="#mC3" x="415.0" y="587.5"/>
<use href="#mC3" x="400.6" y="593.3"/>
<use href="#mC3" x="404.4" y="600.0"/>
<use href="#mP" x="350.6" y="584.6"/>
<use href="#mT3" x="348.7" y="590.4"/>
<use href="#mC3" x="344.8" y="599.0"/>
<use href="#mP" x="376.5" y="592.3"/>
<use href="#mC3" x="370.8" y="599.0"/>
<use href="#mC3" x="383.3" y="605.8"/>
<use href="#mS3" x="368.8" y="608.7"/>
<use href="#mC3" x="358.3" y="613.5"/>
<use href="#mC3" x="347.7" y="621.2"/>
<use href="#mP" x="432.3" y="593.3"/>
<use href="#mP" x="416.9" y="604.8"/>
<use href="#mS3" x="428.5" y="601.9"/>
<use href="#mC3" x="427.0" y="612.5"/>
<use href="#mC3" x="438.0" y="614.5"/>
<use href="#mP" x="424.6" y="618.3"/>
<use href="#mC3" x="419.8" y="625.0"/>
<use href="#mP" x="400.6" y="622.1"/>
<use href="#mC3" x="359.2" y="621.2"/>
<use href="#mP" x="464.6" y="553.5"/>
<use href="#mP" x="485.0" y="555.5"/>
<use href="#mP" x="495.0" y="552.0"/>
<use href="#mC3" x="500.9" y="559.5"/>
<use href="#mC3" x="499.2" y="566.4"/>
<use href="#mP" x="475.0" y="567.3"/>
<use href="#mC3" x="444.7" y="569.0"/>
<use href="#mT3" x="447.0" y="577.0"/>
<use href="#mC3" x="466.3" y="572.5"/>
<use href="#mC3" x="475.8" y="579.4"/>
<use href="#mC3" x="464.6" y="580.3"/>
<use href="#mC3" x="467.2" y="589.8"/>
<use href="#mV" x="496.0" y="578.0"/>
<use href="#mC3" x="495.7" y="588.9"/>
<use href="#mV" x="447.4" y="593.0"/>
<use href="#mP" x="495.7" y="595.8"/>
<use href="#mP" x="504.4" y="596.7"/>
<use href="#mC3" x="483.6" y="599.3"/>
<use href="#mC3" x="471.5" y="602.8"/>
<use href="#mC3" x="438.6" y="603.0"/>
<use href="#mP" x="456.0" y="605.4"/>
<use href="#mP" x="460.3" y="611.4"/>
<use href="#mS3" x="451.6" y="607.1"/>
<use href="#mP" x="471.5" y="613.1"/>
<use href="#mC3" x="480.2" y="614.9"/>
<use href="#mV" x="474.1" y="619.2"/>
<use href="#mC3" x="447.3" y="626.1"/>
<use href="#mC3" x="463.7" y="624.4"/>
<use href="#mP" x="501.8" y="610.6"/>
<use href="#mC3" x="344.2" y="627.0"/>
<use href="#mC3" x="306.7" y="638.5"/>
<use href="#mP" x="330.8" y="632.7"/>
<use href="#mP" x="274.0" y="652.0"/>
<use href="#mS3" x="324.5" y="665.8"/>
<use href="#mC3" x="348.7" y="668.0"/>
<use href="#mC3" x="382.3" y="606.7"/>
<use href="#mC3" x="405.4" y="602.0"/>
<use href="#mC3" x="359.2" y="616.3"/>
<use href="#mT3" x="361.0" y="635.0"/>
<use href="#mC3" x="367.9" y="633.7"/>
<use href="#mC3" x="375.6" y="641.3"/>
<use href="#mP" x="389.0" y="639.4"/>
<use href="#mP" x="383.3" y="645.2"/>
<use href="#mC3" x="401.5" y="643.3"/>
<use href="#mP" x="424.6" y="640.4"/>
<use href="#mP" x="403.5" y="659.6"/>
<use href="#mP" x="430.4" y="654.8"/>
<use href="#mC3" x="439.0" y="639.4"/>
<use href="#mS3" x="466.3" y="613.0"/>
<use href="#mP" x="477.6" y="607.8"/>
<use href="#mC3" x="481.9" y="603.5"/>
<use href="#mC3" x="449.9" y="641.5"/>
<use href="#mT3" x="446.9" y="651.0"/>
<use href="#mC3" x="457.7" y="648.4"/>
<use href="#mS3" x="475.8" y="640.7"/>
<use href="#mC3" x="488.0" y="636.3"/>
<use href="#mC3" x="489.7" y="643.3"/>
<use href="#mC3" x="500.1" y="641.5"/>
<use href="#mP" x="497.5" y="636.3"/>
<use href="#mP" x="481.9" y="659.7"/>
<use href="#mV" x="131.9" y="565.2"/>
<use href="#mT3" x="148.3" y="575.8"/>
<use href="#mC3" x="169.4" y="597.0"/>
</g>
<use href="#mT" x="96.3" y="258"/>
<use href="#mS" x="93.7" y="281"/>
<use href="#mC" x="93" y="302.3"/>
<use href="#mP" x="92" y="326"/>
<use href="#mV" x="92.7" y="351"/>
<text x="119.00" y="264.50" font-size="18.5" text-anchor="start" filter="url(#gs)" >CDA</text>
<text x="119.00" y="286.30" font-size="18.5" text-anchor="start" filter="url(#gs)" >DBA</text>
<text x="119.00" y="308.60" font-size="18.5" text-anchor="start" filter="url(#gs)" >TM</text>
<text x="119.00" y="333.00" font-size="18.5" text-anchor="start" filter="url(#gs)" >SCD</text>
<text x="119.00" y="354.90" font-size="18.5" text-anchor="start" filter="url(#gs)" >PK</text></g>
</svg>
</body></html>
